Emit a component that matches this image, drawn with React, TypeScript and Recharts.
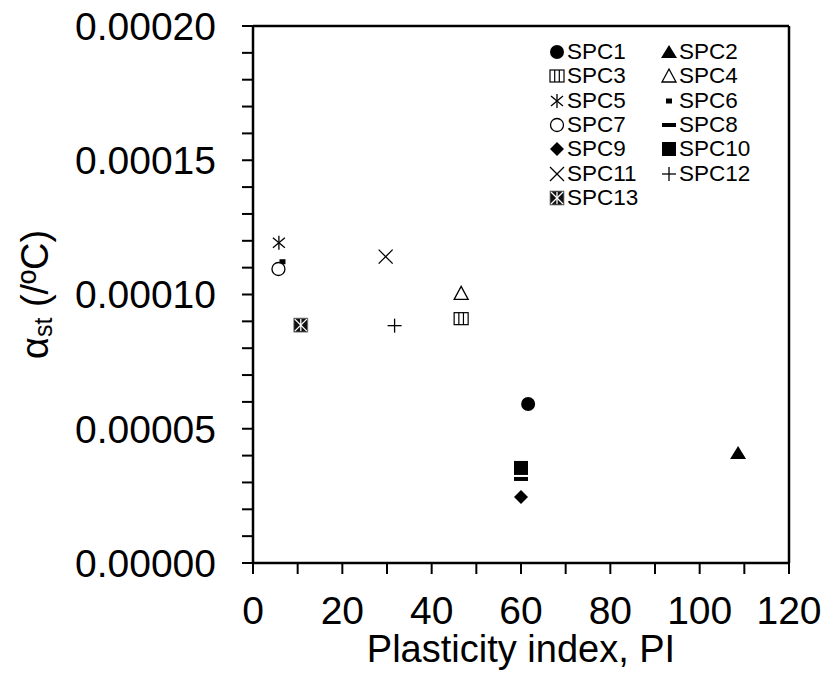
import {
  ScatterChart,
  Scatter,
  XAxis,
  YAxis,
  ReferenceLine,
} from "recharts";

const names = ["SPC1", "SPC2", "SPC3", "SPC4", "SPC5", "SPC6", "SPC7", "SPC8", "SPC9", "SPC10", "SPC11", "SPC12", "SPC13"];
const piValues = [61.6, 108.6, 46.6, 46.6, 5.8, 6.6, 5.7, 60, 60, 60, 29.7, 31.7, 10.7];
const alphaValues = [0.0000592, 0.000041, 0.000091, 0.0001004, 0.0001193, 0.0001122, 0.0001095, 0.0000313, 0.0000246, 0.0000354, 0.0001141, 0.0000884, 0.0000886];

const xTicks = [0, 10, 20, 30, 40, 50, 60, 70, 80, 90, 100, 110, 120];
const yTicks = [0, 0.00001, 0.00002, 0.00003, 0.00004, 0.00005, 0.00006, 0.00007, 0.00008, 0.00009, 0.0001, 0.00011, 0.00012, 0.00013, 0.00014, 0.00015, 0.00016, 0.00017, 0.00018, 0.00019, 0.0002];

const FONT = "'Liberation Sans', Arial, sans-serif";

type P = { cx?: number; cy?: number };

// marker drawings, one per sample
const markers: ((x: number, y: number) => JSX.Element)[] = [
  (x, y) => <circle cx={x} cy={y} r={7} fill="#000" />,
  (x, y) => <polygon points={`${x},${y - 7} ${x + 8},${y + 6} ${x - 8},${y + 6}`} fill="#000" />,
  (x, y) => (
    <g stroke="#000" strokeWidth={1.2} fill="#fff">
      <rect x={x - 7} y={y - 6} width={14} height={12} />
      <line x1={x - 2.3} y1={y - 6} x2={x - 2.3} y2={y + 6} />
      <line x1={x + 2.3} y1={y - 6} x2={x + 2.3} y2={y + 6} />
    </g>
  ),
  (x, y) => <polygon points={`${x},${y - 7} ${x + 7},${y + 6} ${x - 7},${y + 6}`} fill="#fff" stroke="#000" strokeWidth={1.3} />,
  (x, y) => (
    <g stroke="#000" strokeWidth={1.3}>
      <line x1={x} y1={y - 7} x2={x} y2={y + 7} />
      <line x1={x - 6} y1={y - 5} x2={x + 6} y2={y + 5} />
      <line x1={x - 6} y1={y + 5} x2={x + 6} y2={y - 5} />
    </g>
  ),
  (x, y) => <rect x={x - 3} y={y - 2.5} width={6} height={5} fill="#000" />,
  (x, y) => <circle cx={x} cy={y} r={6.5} fill="#fff" stroke="#000" strokeWidth={1.3} />,
  (x, y) => <rect x={x - 7} y={y - 2} width={14} height={4} fill="#000" />,
  (x, y) => <polygon points={`${x},${y - 7} ${x + 7},${y} ${x},${y + 7} ${x - 7},${y}`} fill="#000" />,
  (x, y) => <rect x={x - 7} y={y - 7} width={14} height={14} fill="#000" />,
  (x, y) => (
    <g stroke="#000" strokeWidth={1.3}>
      <line x1={x - 7} y1={y - 7} x2={x + 7} y2={y + 7} />
      <line x1={x - 7} y1={y + 7} x2={x + 7} y2={y - 7} />
    </g>
  ),
  (x, y) => (
    <g stroke="#000" strokeWidth={1.3}>
      <line x1={x - 7} y1={y} x2={x + 7} y2={y} />
      <line x1={x} y1={y - 7} x2={x} y2={y + 7} />
    </g>
  ),
  (x, y) => (
    <g>
      <rect x={x - 7} y={y - 7} width={14} height={14} fill="#111" stroke="#888" strokeWidth={0.8} />
      <g stroke="#fff" strokeWidth={1.3}>
        <line x1={x - 6} y1={y - 6} x2={x + 6} y2={y + 6} />
        <line x1={x - 6} y1={y + 6} x2={x + 6} y2={y - 6} />
        <line x1={x} y1={y - 6} x2={x} y2={y + 6} />
      </g>
    </g>
  ),
];

const series = names.map((name, i) => ({
  name,
  data: [{ pi: piValues[i], alpha: alphaValues[i] }],
  marker: markers[i],
}));

const fmtY = (v: number) => (Math.round(v * 1e5) % 5 === 0 ? v.toFixed(5) : "");
const fmtX = (v: number) => (v % 20 === 0 ? String(v) : "");

const YLabel = ({ viewBox }: any) => {
  const cy = viewBox.y + viewBox.height / 2;
  return (
    <text
      x={35}
      y={cy}
      transform={`rotate(-90 35 ${cy})`}
      textAnchor="middle"
      dominantBaseline="central"
      fontFamily={FONT}
      fontSize={38}
      fill="#000"
    >
      α
      <tspan fontSize={25} dy={8}>st</tspan>
      <tspan dy={-8}> (/ºC)</tspan>
    </text>
  );
};

const XLabel = ({ viewBox }: any) => (
  <text
    x={viewBox.x + viewBox.width / 2}
    y={viewBox.y + 99}
    textAnchor="middle"
    fontFamily={FONT}
    fontSize={38}
    fill="#000"
  >
    Plasticity index, PI
  </text>
);

const LegendBox = () => (
  <div
    style={{
      position: "absolute",
      left: 548,
      top: 40,
      display: "grid",
      gridTemplateColumns: "112px 112px",
      rowGap: 0,
      fontFamily: FONT,
      fontSize: 22.5,
      color: "#000",
    }}
  >
    {series.map((s) => (
      <div key={s.name} style={{ display: "flex", alignItems: "center", height: 24.3 }}>
        <svg width={18} height={18} style={{ marginRight: 1 }}>
          {s.marker(9, 9)}
        </svg>
        <span>{s.name}</span>
      </div>
    ))}
  </div>
);

export default function App() {
  return (
    <div style={{ position: "absolute", left: 0, top: 0, width: 827, height: 675, background: "#fff" }}>
      <ScatterChart width={827} height={675} margin={{ top: 26, right: 38, bottom: 0, left: 0 }}>
        <XAxis
          type="number"
          dataKey="pi"
          domain={[0, 120]}
          ticks={xTicks}
          tickFormatter={fmtX}
          interval={0}
          height={112}
          axisLine={{ stroke: "#000", strokeWidth: 2.5 }}
          tickLine={{ stroke: "#000", strokeWidth: 2 }}
          tickSize={11}
          tickMargin={22}
          tick={{ fill: "#000", fontSize: 39, fontFamily: FONT }}
          label={<XLabel />}
        />
        <YAxis
          type="number"
          dataKey="alpha"
          domain={[0, 0.0002]}
          ticks={yTicks}
          tickFormatter={fmtY}
          interval={0}
          width={253}
          axisLine={{ stroke: "#000", strokeWidth: 2.5 }}
          tickLine={{ stroke: "#000", strokeWidth: 2 }}
          tickSize={11}
          tickMargin={26}
          tick={{ fill: "#000", fontSize: 39, fontFamily: FONT }}
          label={<YLabel />}
        />
        <ReferenceLine y={0.0002} stroke="#000" strokeWidth={2.5} />
        <ReferenceLine x={120} stroke="#000" strokeWidth={2.5} />
        {series.map((s) => (
          <Scatter
            key={s.name}
            name={s.name}
            data={s.data}
            isAnimationActive={false}
            shape={(p: P) => s.marker(p.cx ?? 0, p.cy ?? 0)}
          />
        ))}
      </ScatterChart>
      <LegendBox />
    </div>
  );
}
